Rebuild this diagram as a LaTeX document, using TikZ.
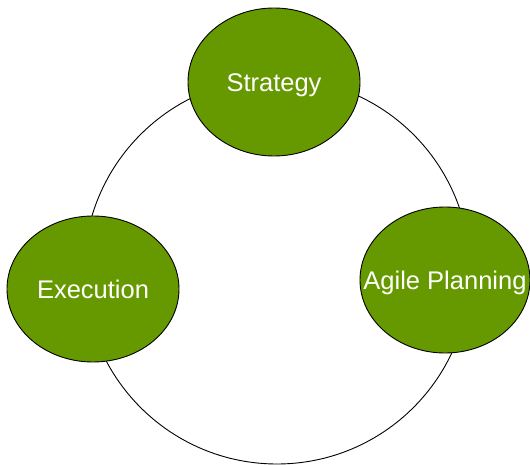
\documentclass[tikz,border=0pt]{standalone}
\usepackage{fontspec}
\setmainfont{Liberation Sans}
\usetikzlibrary{shapes.geometric}
\definecolor{leaf}{HTML}{669900}
\newcommand{\phaselabel}[1]{\raisebox{-9.5pt}[0pt][0pt]{\makebox[0pt]{#1}}}
\begin{document}
\begin{tikzpicture}[x=1pt,y=-1pt,
  phase/.style={ellipse, draw=black, line width=0.9pt, fill=leaf,
    text=white, inner sep=0pt, font=\fontsize{25.5}{30}\selectfont},
  ring/.style={circle, draw=black, line width=0.9pt, inner sep=0pt}]
\useasboundingbox (0,0) rectangle (530,465);
% cycle ring behind the phases
\node[ring, minimum size=386pt] (cyc) at (277,271) {};
% phase ellipses; labels may overflow the outline
\node[phase, minimum width=172pt, minimum height=148pt] (strat) at (274,82) {\phaselabel{Strategy}};
\node[phase, minimum width=172pt, minimum height=146pt] (exec) at (93,289) {\phaselabel{Execution}};
\node[phase, minimum width=170pt, minimum height=146pt] (agile) at (445,280) {\phaselabel{Agile Planning}};
\end{tikzpicture}
\end{document}
